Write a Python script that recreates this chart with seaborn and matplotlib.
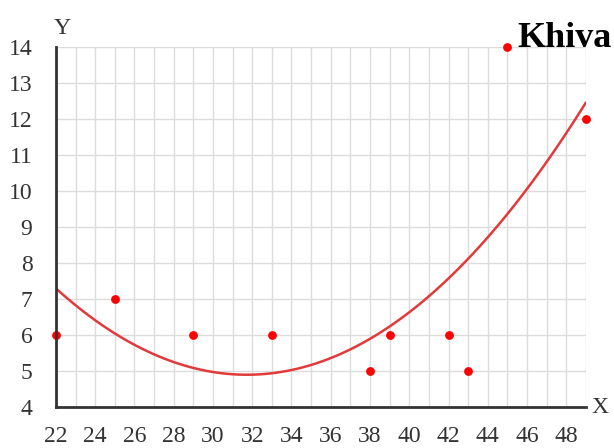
import matplotlib
matplotlib.use("Agg")
import matplotlib.pyplot as plt
import seaborn as sns
import pandas as pd

x_vals = [22, 25, 29, 33, 38, 39, 42, 43, 45, 49]
y_vals = [6, 7, 6, 6, 5, 6, 6, 5, 14, 12]
x_ticks = list(range(22, 50, 2))
y_ticks = list(range(4, 15))

df = pd.DataFrame({"x": x_vals, "y": y_vals})

sns.set_style("white")
plt.rcParams["font.family"] = ["Liberation Serif", "DejaVu Serif"]

fig = plt.figure(figsize=(6.14, 4.48), dpi=100)
ax = fig.add_axes([0.0912, 0.0915, 0.863, 0.8035])

# Scatter of the observations with a second-order polynomial fit
sns.regplot(data=df, x="x", y="y", order=2, ci=None, ax=ax, truncate=True,
            scatter_kws=dict(s=40, color="#ff0000", zorder=4, linewidths=0,
                             clip_on=False, alpha=1),
            line_kws=dict(color="#e03a3a", lw=1.8, zorder=3))

ax.set_xlim(22, 49)
ax.set_ylim(4, 14)
ax.set_xticks(x_ticks)
ax.set_xticks(range(22, 50), minor=True)
ax.set_yticks(y_ticks)
ax.grid(True, which="both", color="#dcdcdc", lw=1.0)
ax.set_axisbelow(True)
ax.set_xlabel("")
ax.set_ylabel("")

for s in ["top", "right"]:
    ax.spines[s].set_visible(False)
for s in ["left", "bottom"]:
    ax.spines[s].set_color("#333333")
    ax.spines[s].set_linewidth(2)
    ax.spines[s].set_zorder(5)

ax.tick_params(axis="both", which="both", direction="in", length=5, width=1.5,
               color="#333333", labelsize=17, labelcolor="#333333")
ax.tick_params(axis="x", which="both", pad=14)
ax.tick_params(axis="y", pad=17)

fig.text(0.101, 0.937, "Y", fontsize=17, color="#333333", ha="center", va="center")
fig.text(0.977, 0.09, "X", fontsize=17, color="#333333", ha="center", va="center")
fig.text(0.997, 0.915, "Khiva", fontsize=26, fontweight="bold", color="black",
         ha="right", va="center")

fig.savefig("out.png", dpi=100)
